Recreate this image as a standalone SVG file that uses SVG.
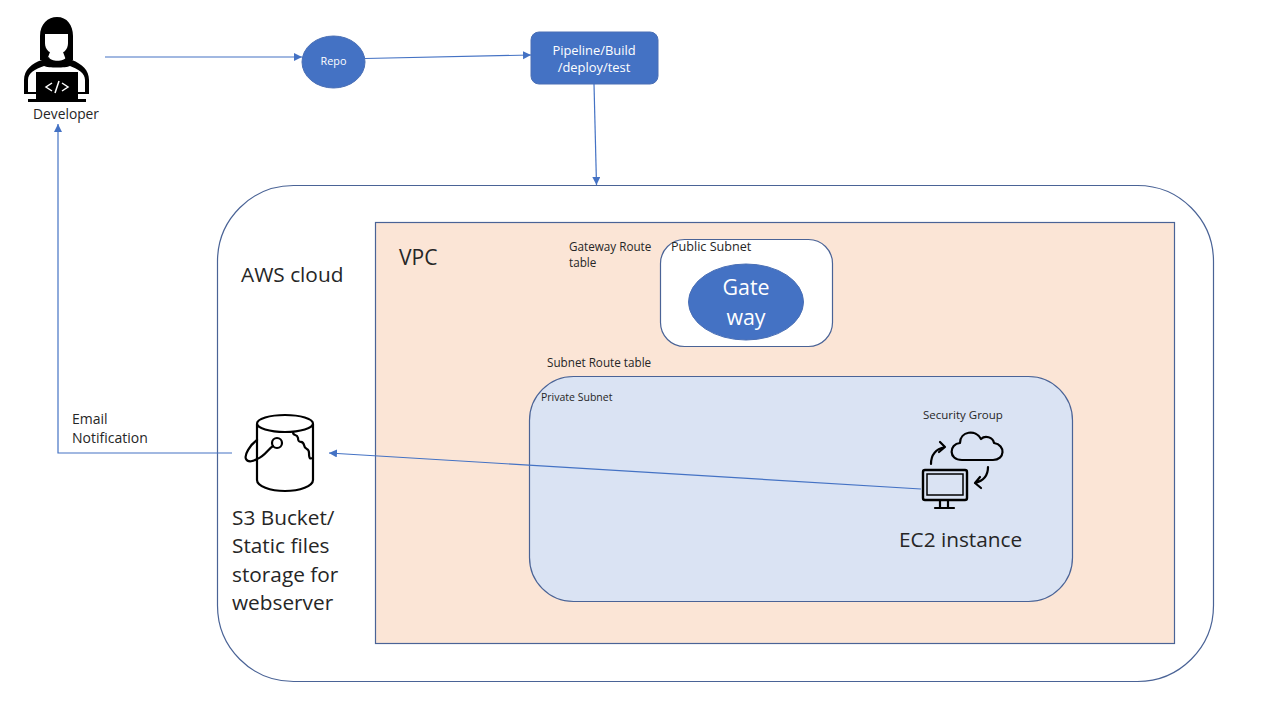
<svg xmlns="http://www.w3.org/2000/svg" width="1280" height="721" viewBox="0 0 1280 721">
<style>
text{font-family:"Open Sans","Noto Sans","Liberation Sans",sans-serif;fill:#262626}
.b{stroke:#4a6396;stroke-width:1.2}
.f{fill:#4472c4}
.c{fill:none;stroke:#4472c4;stroke-width:1.2}
.ic{fill:none;stroke:#000;stroke-width:2.2;stroke-linecap:round;stroke-linejoin:round}
.w{fill:#fff}
</style>
<defs><marker id="a" markerUnits="userSpaceOnUse" markerWidth="10" markerHeight="10" refX="8" refY="4" orient="auto"><path d="M0 0L8 4L0 8Z" fill="#4472c4"/></marker></defs>
<rect width="1280" height="721" fill="#fff"/>
<g id="aws-cloud"><rect x="217.500" y="185.500" width="996" height="496" rx="76" fill="#fff" class="b"/><text x="241" y="282" font-size="20.800">AWS cloud</text></g>
<g id="vpc"><rect x="375.500" y="222.500" width="799" height="421" fill="#fbe5d6" class="b"/><text x="399" y="265" font-size="21">VPC</text></g>
<g id="gateway-route-table"><text x="569" y="251" font-size="11.700">Gateway Route</text><text x="569" y="267" font-size="11.700">table</text></g>
<g id="public-subnet"><rect x="660.500" y="239.500" width="172" height="107" rx="24" fill="#fff" class="b"/><text x="671" y="251" font-size="12.600">Public Subnet</text></g>
<g id="gateway"><ellipse cx="746" cy="302" rx="57.500" ry="38" class="f" stroke="#4a6fb5"/><text x="746" y="295" font-size="21.400" text-anchor="middle" style="fill:#fff">Gate</text><text x="746" y="325" font-size="21.400" text-anchor="middle" style="fill:#fff">way</text></g>
<g id="subnet-route-table"><text x="547" y="367" font-size="11.700">Subnet Route table</text></g>
<g id="private-subnet"><rect x="529.500" y="376.500" width="543" height="225" rx="44" fill="#dae3f3" class="b"/><text x="541" y="401" font-size="10.500">Private Subnet</text></g>
<g id="ec2-instance">
<text x="923" y="419" font-size="11.500">Security Group</text>
<path class="ic" d="M962 460H993C1005 460 1006 445 994 443C993 437 985 435 981 439C976 429 960 431 960 443C949 444 948 460 962 460Z"/>
<path class="ic" d="M931 464C931 455 936 449 945 447M940 442L945 447L939 452"/>
<path class="ic" d="M988 467C988 476 983 481 975 483M980 477L975 483L981 488"/>
<rect x="923" y="470" width="44" height="30" rx="2" fill="none" stroke="#000" stroke-width="2.400"/>
<rect x="927" y="474" width="36" height="21" fill="none" stroke="#000" stroke-width="1.500"/>
<path class="ic" d="M940 500V507M948 500V507M935 508H954"/>
<text x="899" y="547" font-size="20.800">EC2 instance</text>
</g>
<g id="s3-bucket">
<ellipse cx="285" cy="423.500" rx="28" ry="8.500" class="ic"/>
<path class="ic" d="M257 424V480C257 486 270 491 285 491C300 491 313 486 313 480V424"/>
<path class="ic" d="M293 432C293 437 297 433 298 438C298 445 303 439 304 445C305 451 309 447 309 453C309 459 310 459 313 458"/>
<circle cx="277" cy="443" r="5" class="ic"/>
<path class="ic" d="M273 446C268 449 265 456 257 459M257 440C250 445 244 455 246 459C248 463 254 461 257 459"/>
<text x="232" y="525" font-size="20.800">S3 Bucket/</text><text x="232" y="553" font-size="20.800">Static files</text><text x="232" y="582" font-size="20.800">storage for</text><text x="232" y="610" font-size="20.800">webserver</text>
</g>
<g id="email-notification"><text x="72" y="424" font-size="14">Email</text><text x="72" y="443" font-size="14">Notification</text></g>
<g id="developer">
<path d="M40 60V36C40 24 48 17 57 17C67 17 73 25 73 36V60L66 60L63 52H50L47 60Z" fill="#000"/>
<path d="M45 34H68V43C68 50 63 54 57 54C50 54 45 50 45 43Z" fill="#fff"/>
<path d="M49 57C50 62 65 62 66 57L72 60C82 64 89 70 89 80V94H24V80C24 70 32 63 42 60Z" fill="#000"/>
<path d="M28 92V80C28 73 35 69 44 66C48 68 66 68 70 66C78 69 85 73 85 80V92Z" fill="#fff"/>
<rect x="36" y="72" width="42" height="28" fill="#000"/>
<rect x="28" y="99" width="58" height="3" fill="#000"/>
<path d="M52 83L46 87L52 91M62 83L68 87L62 91M59 81L55 93" fill="none" stroke="#fff" stroke-width="1.500"/>
<text x="33" y="119" font-size="13.800">Developer</text>
</g>
<g id="repo"><ellipse cx="333.500" cy="62" rx="31.500" ry="26" class="f" stroke="#4a6fb5"/><text x="333.500" y="65" font-size="10.800" text-anchor="middle" style="fill:#fff">Repo</text></g>
<g id="pipeline"><rect x="531" y="32" width="127" height="52" rx="8" class="f" stroke="#4a6fb5"/><text x="594" y="55" font-size="12.900" text-anchor="middle" style="fill:#fff">Pipeline/Build</text><text x="594" y="72" font-size="12.900" text-anchor="middle" style="fill:#fff">/deploy/test</text></g>
<g id="connectors">
<path class="c" d="M105 57H302" marker-end="url(#a)"/>
<path class="c" d="M365 58.500L531 55" marker-end="url(#a)"/>
<path class="c" d="M594 84L596.500 185" marker-end="url(#a)"/>
<path class="c" d="M921 489L329 453" marker-end="url(#a)"/>
<path class="c" d="M232 453H58V124" marker-end="url(#a)"/>
</g>
</svg>
